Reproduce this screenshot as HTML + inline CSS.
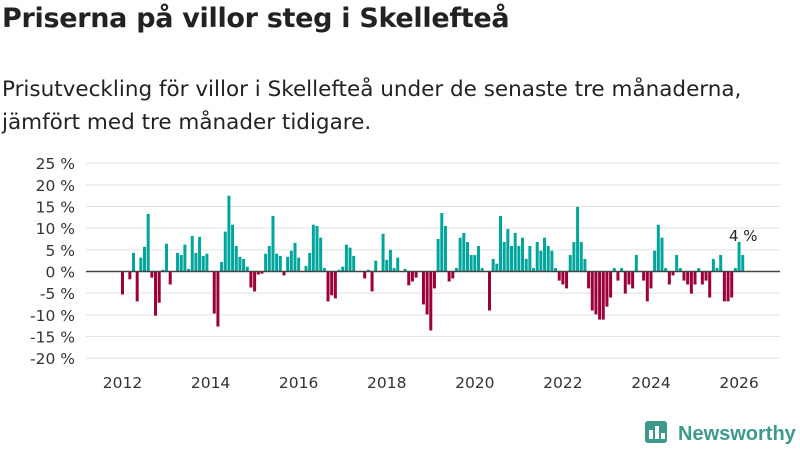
<!DOCTYPE html>
<html><head><meta charset="utf-8">
<style>
body{margin:0;width:800px;height:450px;background:#fff;font-family:"DejaVu Sans","Liberation Sans",sans-serif;color:#222;overflow:hidden;position:relative}
#title{position:absolute;left:2px;top:3px;font-size:27px;font-weight:bold;letter-spacing:-0.3px;margin:0}
#sub{position:absolute;left:2px;top:73px;font-size:21.5px;line-height:33px;color:#222}
svg{position:absolute;left:0;top:0}
</style></head><body>
<h1 id="title">Priserna på villor steg i Skellefteå</h1>
<div id="sub">Prisutveckling för villor i Skellefteå under de senaste tre månaderna,<br>jämfört med tre månader tidigare.</div>
<svg id="chart" width="800" height="450"></svg>
<script>
const yTicks=[25,20,15,10,5,0,-5,-10,-15,-20];
const yearLabels=[2012,2014,2016,2018,2020,2022,2024,2026];
const startYear=2012;
const values=[
-5.3,0,-1.8,4.3,-6.9,3.2,5.7,13.3,-1.4,-10.2,-7.2,0.4,
6.4,-3,0,4.3,3.8,6.2,0.6,8.2,4.3,8.0,3.6,4.1,
0,-9.7,-12.7,2.2,9.2,17.5,10.8,5.9,3.4,2.9,1.1,-3.7,
-4.6,-0.7,-0.5,4.1,5.9,12.8,4.1,3.6,-0.9,3.4,4.8,6.6,
3.2,0,1.3,4.3,10.8,10.5,7.8,0.8,-6.9,-5.5,-6.2,0.4,
1.1,6.2,5.5,3.6,0,0,-1.6,0.4,-4.6,2.5,0,8.7,
2.7,5.0,0.8,3.2,0,0.6,-3.2,-2.3,-1.4,0,-7.6,-9.9,
-13.6,-3.9,7.5,13.5,10.5,-2.3,-1.6,0.8,7.8,8.9,6.8,3.8,
3.8,5.9,0.8,0,-9.0,2.9,1.8,12.8,6.8,9.8,5.9,8.9,
5.9,7.8,2.9,5.9,0.8,6.8,4.8,7.8,5.9,4.8,0.8,-2.1,
-3.0,-3.9,3.8,6.8,14.9,6.8,2.9,-3.9,-9.0,-9.9,-11.1,-11.1,
-8.1,-6.0,0.8,-2.1,0.8,-5.1,-3.0,-3.9,3.8,0,-2.1,-6.9,
-3.9,4.8,10.8,7.8,0.8,-3.0,-0.9,3.8,0.8,-2.1,-3.0,-5.1,
-3.0,0.8,-3.0,-2.1,-6.0,2.9,0.8,3.8,-6.9,-6.9,-6.0,0.8,
6.8,3.8];
const lastLabel="4 %";
const NS="http://www.w3.org/2000/svg";
const svg=document.getElementById('chart');
const y=v=>271.5-v*4.333;
const x=m=>121+m*3.67;
function mk(t,a,txt){const e=document.createElementNS(NS,t);for(const k in a)e.setAttribute(k,a[k]);if(txt!==undefined)e.textContent=txt;svg.appendChild(e);return e;}
yTicks.forEach(t=>{
 if(t!==0){const g=mk('line',{x1:86,x2:780,y1:y(t),y2:y(t),stroke:'#e2e2e2','stroke-width':1});
 
 }
 const l=mk('text',{x:75,y:y(t)+6,'text-anchor':'end','font-size':15.5,fill:'#333'},t+' %');
 
 
});
values.forEach((v,i)=>{
 if(v===0)return;
 const r=mk('rect',{x:x(i),width:3,y:v>0?y(v):y(0),height:Math.abs(y(v)-y(0)),fill:v>0?'#00a59b':'#9b003a'});
 
 
});
const z=mk('line',{x1:86,x2:780,y1:y(0),y2:y(0),stroke:'#444','stroke-width':1.5});


yearLabels.forEach(yr=>{
 const m=(yr-startYear)*12;
 const l=mk('text',{x:x(m)+1.5,y:388,'text-anchor':'middle','font-size':15.5,fill:'#333'},String(yr));
 
 
});
const li=values.length-1;
const a=mk('text',{x:x(li)+2,y:y(values[li])-14,'text-anchor':'middle','font-size':15,fill:'#222'},lastLabel);


const g=mk('g',{});


const bg=mk('rect',{x:645,y:421,width:22,height:22,rx:3,fill:'#3d9a8b'});


[[649,430,4,9],[655,426,4,13],[661,433,4,6]].forEach(b=>{const r=mk('rect',{x:b[0],y:b[1],width:b[2],height:b[3],fill:'#fff'});

});
const lt=mk('text',{x:678,y:440,'font-size':20,fill:'#3d9a8b','font-weight':'bold','font-family':'Liberation Sans'},'Newsworthy');


</script>
</body></html>
